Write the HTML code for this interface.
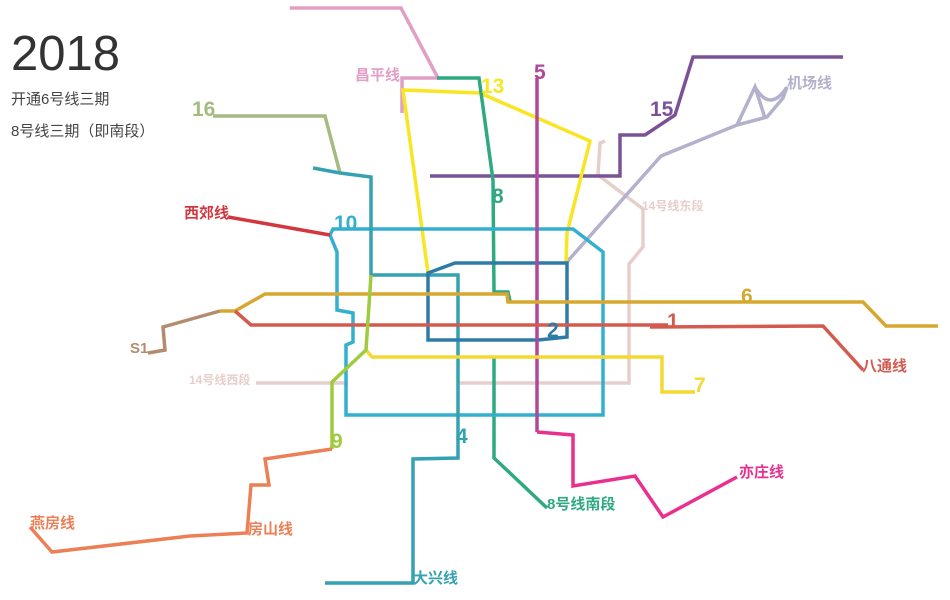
<!DOCTYPE html>
<html><head><meta charset="utf-8"><style>
html,body{margin:0;padding:0;background:#fff;}
svg{display:block}
text{font-family:"Liberation Sans","Noto Sans CJK SC",sans-serif;font-weight:bold}
</style></head><body>
<svg width="950" height="600" viewBox="0 0 950 600" xmlns="http://www.w3.org/2000/svg">
<rect width="950" height="600" fill="#fff"/>
<g fill="none" stroke-width="3.5" stroke-linejoin="miter">
<polyline stroke="#e6cfcb" points="605,141 600,143 598,175 643,209 643,247 629,264 629,383 457,383"/>
<polyline stroke="#e6cfcb" points="256,383 348,383"/>
<polyline stroke="#b3b1cc" points="566,263 661,156 737,125 767,117 783,98 787,87"/>
<polyline stroke="#b3b1cc" points="737,125 755,87 765,118"/>
<path stroke="#b3b1cc" d="M755,87 Q770,113 787,87"/>
<polyline stroke="#7b5295" points="430,176 620,176 620,135 645,135 675,115 693,57 843,57"/>
<polyline stroke="#e29fc6" points="290,8 401,8 438,78 402,78 402,113"/>
<polyline stroke="#a4bb82" points="213,116 325,116 340,173"/>
<polyline stroke="#f8e523" points="428,273 403,90 480,93 590,141 567,233 566,263"/>
<polyline stroke="#2ea982" points="437,78 479,78 493,180 494,292 508,292 510,301"/>
<polyline stroke="#2ea982" points="494,356 494,458 547,508"/>
<polyline stroke="#33afd0" points="330,235 333,229 573,229 603,252 603,415 346,415 346,345 353,342 353,313 337,310 337,252 330,235"/>
<polyline stroke="#34a2b0" points="313,168 340,173 371,177 371,275 458,275 458,458 413,459 413,583 325,583"/>
<polygon stroke="#2f7ba8" points="428,273 455,263 567,263 567,337 538,340 428,340"/>
<polyline stroke="#ae4999" points="537,78 537,432"/>
<polyline stroke="#e9308f" points="537,432 573,435 573,486 635,476 663,517 737,477"/>
<polyline stroke="#d2373f" points="228,217 330,235"/>
<polyline stroke="#d7a82f" points="220,311 235,311 265,294 507,294 508,302 863,302 886,326 938,326"/>
<polyline stroke="#b58b6f" points="148,353 165,350 163,327 220,311"/>
<polyline stroke="#d55a4e" points="235,311 251,325 668,325"/>
<polyline stroke="#d55a4e" points="650,327 823,326 863,370"/>
<polyline stroke="#f5d932" points="366,350 372,357 662,357 662,392 695,392"/>
<polyline stroke="#9fcc3e" points="371,275 366,350 332,382 332,449"/>
<polyline stroke="#ec7f55" points="332,449 265,459 269,485 251,485 247,533 190,536 52,552 30,527"/>
</g>
<text x="11" y="70" font-size="49" fill="#333" style="font-weight:normal">2018</text>
<text x="11" y="104" font-size="15" fill="#444" style="font-weight:normal">开通6号线三期</text>
<text x="11" y="136" font-size="15" fill="#444" style="font-weight:normal">8号线三期（即南段）</text>
<g font-size="21">
<text x="192" y="116" fill="#a4bb82">16</text>
<text x="481" y="93" fill="#f8e523">13</text>
<text x="534" y="79" fill="#ae4999">5</text>
<text x="650" y="116" fill="#7b5295">15</text>
<text x="492" y="203" fill="#2ea982">8</text>
<text x="334" y="230" fill="#33afd0">10</text>
<text x="741" y="303" fill="#d7a82f">6</text>
<text x="667" y="328" fill="#d55a4e">1</text>
<text x="547" y="337" fill="#2f7ba8">2</text>
<text x="694" y="392" fill="#f5d932">7</text>
<text x="331" y="448" fill="#9fcc3e">9</text>
<text x="456" y="443" fill="#34a2b0">4</text>
</g>
<g font-size="15">
<text x="355" y="80" fill="#e29fc6">昌平线</text>
<text x="787" y="88" fill="#b3b1cc">机场线</text>
<text x="642" y="210" font-size="12" fill="#e6cfcb">14号线东段</text>
<text x="184" y="218" fill="#d2373f">西郊线</text>
<text x="130" y="353" fill="#b58b6f">S1</text>
<text x="189" y="384" font-size="12" fill="#e6cfcb">14号线西段</text>
<text x="862" y="371" fill="#d55a4e">八通线</text>
<text x="739" y="477" fill="#e9308f">亦庄线</text>
<text x="547" y="509" fill="#2ea982">8号线南段</text>
<text x="30" y="528" fill="#ec7f55">燕房线</text>
<text x="248" y="534" fill="#ec7f55">房山线</text>
<text x="413" y="583" fill="#34a2b0">大兴线</text>
</g>
</svg>
</body></html>
